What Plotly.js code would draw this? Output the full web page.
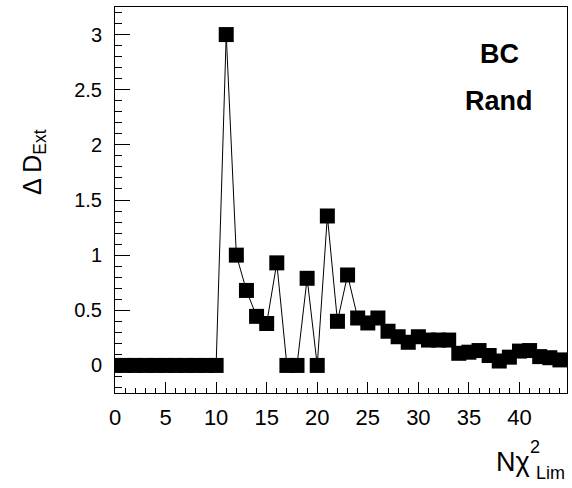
<!DOCTYPE html>
<html>
<head>
<meta charset="utf-8">
<script src="https://cdn.plot.ly/plotly-3.0.1.min.js"></script>
<style>html,body{margin:0;padding:0;background:#fff;}#chart{width:572px;height:488px;}</style>
</head>
<body>
<div id="chart"></div>
<script>
var nchi2 = [0,1,2,3,4,5,6,7,8,9,10,11,12,13,14,15,16,17,18,19,20,21,22,23,24,25,26,27,28,29,30,31,32,33,34,35,36,37,38,39,40,41,42,43,44];
var deltaD = [0,0,0,0,0,0,0,0,0,0,0,3.0,1.0,0.68,0.445,0.38,0.93,0,0,0.79,0,1.355,0.40,0.82,0.43,0.385,0.43,0.31,0.26,0.21,0.26,0.23,0.23,0.23,0.11,0.12,0.135,0.09,0.04,0.075,0.13,0.135,0.08,0.07,0.05];
var labels = ["BC", "Rand"];

var W = 572, H = 488;
var L = 115, R = 567, T = 7, B = 393;
function px(x){ return (x - L) / (R - L); }
function py(y){ return (B - y) / (B - T); }

var font = "Liberation Sans, Arial, Helvetica, sans-serif";

var trace = {
  x: nchi2, y: deltaD, type: 'scatter', mode: 'lines+markers',
  line: {color: '#000', width: 1},
  marker: {symbol: 'square', size: 15, color: '#000'},
  cliponaxis: true
};

var layout = {
  width: W, height: H,
  margin: {l: L, r: W - R, t: T, b: H - B},
  paper_bgcolor: '#fff', plot_bgcolor: '#fff',
  showlegend: false,
  font: {family: font, color: '#000'},
  xaxis: {
    range: [0, 44.7], dtick: 5, tick0: 0,
    ticks: 'inside', ticklen: 11, tickwidth: 1, tickcolor: '#000',
    minor: {dtick: 1, ticks: 'inside', ticklen: 5, tickwidth: 1, tickcolor: '#000', showgrid: false},
    showgrid: false, zeroline: false,
    showline: true, mirror: true, linecolor: '#000', linewidth: 1,
    tickfont: {family: font, size: 22, color: '#000'},
    ticklabelstandoff: 5
  },
  yaxis: {
    range: [-0.25, 3.25], dtick: 0.5, tick0: 0,
    ticks: 'inside', ticklen: 15, tickwidth: 1, tickcolor: '#000',
    minor: {dtick: 0.1, ticks: 'inside', ticklen: 7, tickwidth: 1, tickcolor: '#000', showgrid: false},
    showgrid: false, zeroline: false,
    showline: true, mirror: true, linecolor: '#000', linewidth: 1,
    tickfont: {family: font, size: 20, color: '#000'},
    ticklabelstandoff: 8
  },
  annotations: [
    {xref: 'paper', yref: 'paper', x: px(499), y: py(54), text: '<b>' + labels[0] + '</b>', showarrow: false,
     xanchor: 'center', yanchor: 'middle', font: {family: font, size: 27, color: '#000'}},
    {xref: 'paper', yref: 'paper', x: px(499), y: py(101), text: '<b>' + labels[1] + '</b>', showarrow: false,
     xanchor: 'center', yanchor: 'middle', font: {family: font, size: 27, color: '#000'}},
    {xref: 'paper', yref: 'paper', x: px(34), y: py(162), text: 'Δ D<sub>Ext</sub>', showarrow: false, textangle: -90,
     xanchor: 'center', yanchor: 'middle', font: {family: font, size: 25, color: '#000'}},
    {xref: 'paper', yref: 'paper', x: px(513), y: py(462), text: 'Nχ', showarrow: false,
     xanchor: 'center', yanchor: 'middle', font: {family: font, size: 27, color: '#000'}},
    {xref: 'paper', yref: 'paper', x: px(535), y: py(447), text: '2', showarrow: false,
     xanchor: 'center', yanchor: 'middle', font: {family: font, size: 18, color: '#000'}},
    {xref: 'paper', yref: 'paper', x: px(550), y: py(473), text: 'Lim', showarrow: false,
     xanchor: 'center', yanchor: 'middle', font: {family: font, size: 18, color: '#000'}}
  ]
};

Plotly.newPlot('chart', [trace], layout, {displayModeBar: false, staticPlot: true});
</script>
</body>
</html>
